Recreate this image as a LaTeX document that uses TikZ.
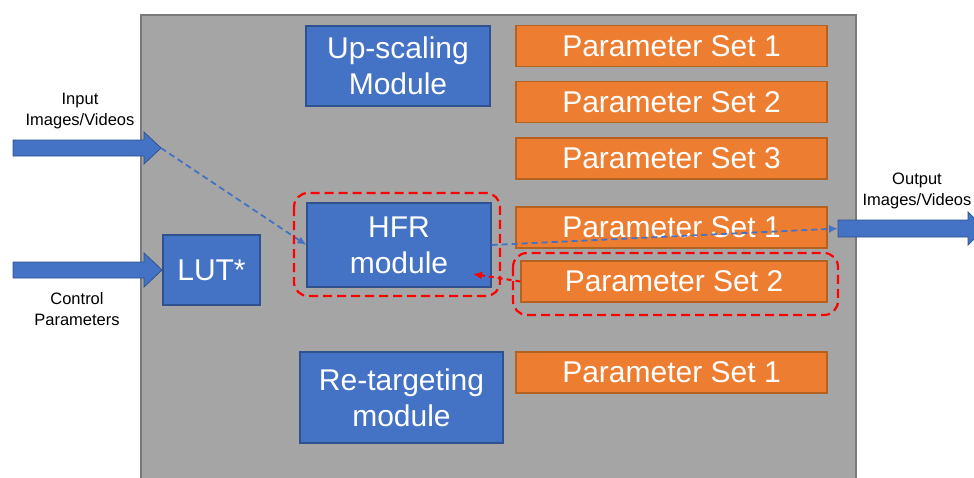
\documentclass[tikz,border=0pt]{standalone}
\usepackage{fontspec}
\setmainfont{Liberation Sans}
\usetikzlibrary{arrows.meta}
\definecolor{modblue}{HTML}{4472C4}
\definecolor{modborder}{HTML}{2F528F}
\definecolor{psorange}{HTML}{ED7D31}
\definecolor{psborder}{HTML}{B5611F}
\definecolor{panelgray}{HTML}{A5A5A5}
\definecolor{panelborder}{HTML}{7A7A7A}
\definecolor{selred}{HTML}{FF0000}
\begin{document}
\begin{tikzpicture}[x=1pt,y=-1pt,
  bigtext/.style={font=\fontsize{30}{36}\selectfont},
  module/.style={draw=modborder, line width=1.2pt, fill=modblue, text=white,
    bigtext, align=center, inner sep=0pt},
  paramset/.style={draw=psborder, line width=1.2pt, fill=psorange, text=white,
    bigtext, inner sep=0pt, minimum height=41},
  iolabel/.style={font=\fontsize{16.5}{20.5}\selectfont, align=center, text=black},
  blockarrow/.style={draw=modborder, line width=0.8pt, fill=modblue},
  flowdash/.style={draw=modblue, line width=1.8pt, dash pattern=on 6pt off 4pt,
    -{Latex[length=9pt,width=8pt]}},
  selbox/.style={draw=selred, line width=2.2pt, dash pattern=on 9pt off 5pt,
    rounded corners=14pt},
  seldash/.style={draw=selred, line width=2pt, dash pattern=on 5pt off 4pt,
    -{Latex[length=9pt,width=8pt]}}]
\useasboundingbox (0,0) rectangle (974,477);
\clip (0,0) rectangle (974,477);

% processing panel
\draw[fill=panelgray, draw=panelborder, line width=2pt] (141,15) rectangle (856,495);

% modules
\node[module, minimum width=184, minimum height=80] (up) at (398,66) {Up-scaling\\Module};
\node[module, minimum width=184, minimum height=84] (hfr) at (399,245) {HFR\\module};
\node[module, minimum width=203, minimum height=91] (rt) at (401.5,397.5) {Re-targeting\\module};
\node[module, minimum width=97, minimum height=70] (lut) at (211.5,270) {LUT*};

% parameter sets
\node[paramset, minimum width=311] (pu1) at (671.5,46) {Parameter Set 1};
\node[paramset, minimum width=311] (pu2) at (671.5,102) {Parameter Set 2};
\node[paramset, minimum width=311] (pu3) at (671.5,158.5) {Parameter Set 3};
\node[paramset, minimum width=311] (ph1) at (671.5,227.5) {Parameter Set 1};
\node[paramset, minimum width=306] (ph2) at (674,281.5) {Parameter Set 2};
\node[paramset, minimum width=311] (pr1) at (671.5,372.5) {Parameter Set 1};

% block arrows for inputs and output
\draw[blockarrow] (13,140) -- (144,140) -- (144,132) -- (161,148) -- (144,164)
  -- (144,156) -- (13,156) -- cycle;
\coordinate (inTip) at (161,148);
\draw[blockarrow] (13,262) -- (144,262) -- (144,253) -- (162,270) -- (144,287)
  -- (144,278) -- (13,278) -- cycle;
\draw[blockarrow] (838,220) -- (968,220) -- (968,212) -- (985,228.5) -- (968,245)
  -- (968,237) -- (838,237) -- cycle;
\coordinate (outTail) at (838,228.5);

% labels
\node[iolabel] (inlab) at (80,111) {Input\\Images/Videos};
\node[iolabel] (ctllab) at (77,309) {Control\\Parameters};
\node[iolabel] (outlab) at (917,191) {Output\\Images/Videos};

% data flow
\draw[flowdash] (inTip) -- (hfr.west);
\draw[flowdash] (hfr.east) -- (outTail);

% selected configuration
\draw[selbox] (294,193) rectangle (500,296);
\draw[selbox] (513,253) rectangle (838,315);
\coordinate (hfrIn) at (473,274);
\draw[seldash] (ph2.west) -- (hfrIn);
\end{tikzpicture}
\end{document}
